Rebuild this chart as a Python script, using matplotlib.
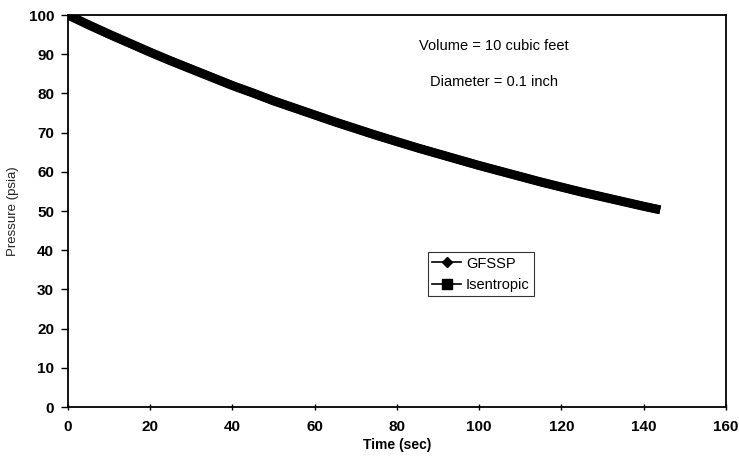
import numpy as np
import matplotlib
matplotlib.use('Agg')
import matplotlib.pyplot as plt

plt.rcParams['font.family'] = ['Liberation Sans', 'DejaVu Sans']

# time (sec) and pressure (psia)
time_sec = [0, 5, 10, 15, 20, 25, 30, 35, 40, 45, 50, 55, 60, 65, 70,
            75, 80, 85, 90, 95, 100, 105, 110, 115, 120, 125, 130, 135, 140, 144]
p_gfssp = [100.0, 97.5, 95.1, 92.8, 90.5, 88.3, 86.2, 84.1, 82.0, 80.1,
           78.1, 76.3, 74.5, 72.7, 71.0, 69.3, 67.7, 66.1, 64.6, 63.1,
           61.6, 60.2, 58.8, 57.4, 56.1, 54.8, 53.6, 52.4, 51.2, 50.3]
p_isen = [100.0, 97.5, 95.1, 92.8, 90.5, 88.3, 86.2, 84.1, 82.0, 80.1,
          78.1, 76.3, 74.5, 72.7, 71.0, 69.3, 67.7, 66.1, 64.6, 63.1,
          61.6, 60.2, 58.8, 57.4, 56.1, 54.8, 53.6, 52.4, 51.2, 50.3]

fig = plt.figure(figsize=(7.39, 4.65), dpi=100)
ax = fig.add_axes([0.092, 0.1247, 0.8904, 0.843])

# thick band, the original plots markers so dense they merge
ax.plot(time_sec, p_isen, color='k', lw=6.5, solid_capstyle='butt', zorder=2)
ax.plot(time_sec, p_gfssp, color='k', lw=6.0, solid_capstyle='butt', zorder=3)

# proxies for the legend
h1, = ax.plot([], [], color='k', lw=1.2, marker='D', ms=5, label='GFSSP')
h2, = ax.plot([], [], color='k', lw=1.2, marker='s', ms=7, label='Isentropic')

ax.set_xlim(0, 160)
ax.set_ylim(0, 100)
ax.set_xticks(np.arange(0, 161, 20))
ax.set_yticks(np.arange(0, 101, 10))
ax.tick_params(axis='x', direction='inout', length=5, width=1, labelsize=11, pad=7)
ax.tick_params(axis='y', direction='out', length=5, width=1, labelsize=11, pad=5)
for lab in ax.get_xticklabels() + ax.get_yticklabels():
    lab.set_fontweight('bold')
for s in ax.spines.values():
    s.set_linewidth(1.3)

ax.set_xlabel('Time (sec)', fontsize=10, fontweight='bold', labelpad=3)
ax.set_ylabel('Pressure (psia)', fontsize=9.5, labelpad=7, color='#222222')

ax.text(103.5, 92.1, 'Volume = 10 cubic feet', ha='center', va='center', fontsize=10.5)
ax.text(103.5, 82.9, 'Diameter = 0.1 inch', ha='center', va='center', fontsize=10.5)

leg = ax.legend(handles=[h1, h2], loc='upper left', bbox_to_anchor=(0.547, 0.395),
                fontsize=10.5, frameon=True, fancybox=False, edgecolor='k',
                handlelength=2.0, borderpad=0.3, labelspacing=0.5,
                handletextpad=0.3, borderaxespad=0.0)
leg.get_frame().set_linewidth(0.8)

fig.savefig('out.png', dpi=100)
